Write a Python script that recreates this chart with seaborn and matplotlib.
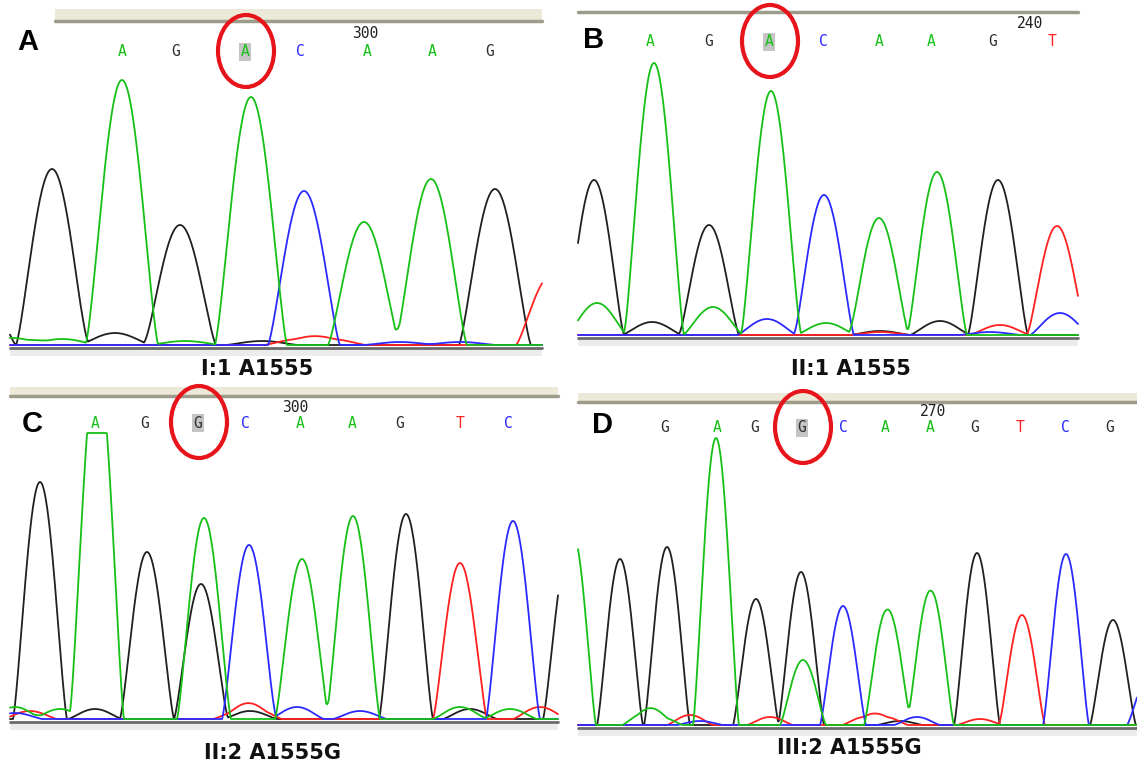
import numpy as np
import pandas as pd
import matplotlib
matplotlib.use("Agg")
import matplotlib.pyplot as plt
import seaborn as sns
from matplotlib.patches import Ellipse, Rectangle

W, H = 1137, 766

# base -> trace colour (ABI style)
colors = {"A": "#16c016", "C": "#2a2aff", "G": "#202020", "T": "#ff2020"}

# ---------- panel A : I:1 A1555 ----------
A_seq = ["A", "G", "A", "C", "A", "A", "G"]
A_seq_x = [122, 176, 245, 300, 367, 432, 490]
A_peaks = {
    "G": [(-20, 60), (52, 176), (115, 12), (180, 120), (262, 4), (495, 156)],
    "A": [(12, 7), (62, 6), (122, 265), (185, 4), (251, 248), (364, 123), (431, 166)],
    "C": [(304, 154), (400, 3), (460, 3)],
    "T": [(300, 6), (330, 6), (552, 70)],
}

# ---------- panel B : II:1 A1555 ----------
B_seq = ["A", "G", "A", "C", "A", "A", "G", "T"]
B_seq_x = [650, 709, 769, 823, 879, 931, 993, 1052]
B_peaks = {
    "G": [(594, 155), (652, 13), (709, 110), (880, 4), (940, 14), (998, 155)],
    "A": [(597, 32), (654, 272), (713, 28), (771, 244), (826, 12), (879, 117), (937, 163)],
    "C": [(767, 16), (824, 140), (990, 3), (1060, 22)],
    "T": [(880, 3), (1000, 10), (1057, 109)],
}

# ---------- panel C : II:2 A1555G ----------
C_seq = ["A", "G", "G", "C", "A", "A", "G", "T", "C"]
C_seq_x = [95, 145, 198, 245, 300, 352, 400, 460, 508]
C_peaks = {
    "G": [(40, 237), (95, 10), (147, 167), (201, 135), (250, 8), (406, 205), (470, 10), (570, 175)],
    "A": [(15, 12), (60, 10), (97, 360), (204, 201), (302, 160), (353, 203), (460, 12), (510, 10)],
    "C": [(15, 6), (249, 174), (297, 12), (360, 8), (513, 198)],
    "T": [(30, 8), (240, 8), (255, 10), (460, 156), (540, 12)],
}

# ---------- panel D : III:2 A1555G ----------
D_seq = ["G", "A", "G", "G", "C", "A", "A", "G", "T", "C", "G"]
D_seq_x = [665, 717, 755, 802, 843, 885, 930, 975, 1020, 1065, 1110]
D_peaks = {
    "G": [(620, 166), (667, 178), (756, 126), (801, 153), (900, 4), (977, 172), (1113, 105)],
    "A": [(573, 190), (645, 12), (660, 8), (716, 287), (803, 65), (887, 115), (909, 10), (931, 134)],
    "C": [(700, 4), (843, 119), (917, 8), (1066, 171), (1150, 50)],
    "T": [(690, 10), (770, 8), (865, 8), (885, 8), (980, 6), (1022, 110)],
}

# panel layout in pixels: x0, x1, top line, baseline; peak half-base width; clip
panels = [
    dict(name="A", seq=A_seq, seq_x=A_seq_x, peaks=A_peaks, box=(10, 542, 21, 348), width=36,
         clip=None, seq_y=52, hi=2, num="300", num_xy=(365, 33), letter_xy=(28, 42),
         caption="I:1 A1555", cap_xy=(257, 369), band=(55, 9)),
    dict(name="B", seq=B_seq, seq_x=B_seq_x, peaks=B_peaks, box=(578, 1078, 12, 338), width=30,
         clip=None, seq_y=42, hi=2, num="240", num_xy=(1030, 24), letter_xy=(594, 40),
         caption="II:1 A1555", cap_xy=(851, 369), band=None),
    dict(name="C", seq=C_seq, seq_x=C_seq_x, peaks=C_peaks, box=(10, 558, 396, 722), width=27,
         clip=286, seq_y=423, hi=2, num="300", num_xy=(295, 407), letter_xy=(32, 424),
         caption="II:2 A1555G", cap_xy=(272, 753), band=(10, 387)),
    dict(name="D", seq=D_seq, seq_x=D_seq_x, peaks=D_peaks, box=(578, 1137, 402, 728), width=23,
         clip=None, seq_y=428, hi=3, num="270", num_xy=(933, 411), letter_xy=(603, 425),
         caption="III:2 A1555G", cap_xy=(849, 748), band=(578, 393)),
]

sns.set_theme(style="white")
plt.rcParams["font.family"] = ["DejaVu Sans"]

fig = plt.figure(figsize=(W / 100, H / 100), dpi=100)
ax = fig.add_axes([0, 0, 1, 1])
ax.set_xlim(0, W)
ax.set_ylim(H, 0)
ax.axis("off")


def signal(xs, peaks, w, clip):
    # compact peaks: round apex, near-straight flanks
    y = np.zeros_like(xs)
    for p, h in peaks:
        u = np.clip(np.abs(xs - p) / w, 0, 1)
        y += h * np.cos(np.pi / 2 * u) ** 1.3
    if clip is not None:
        y = np.minimum(y, clip)
    return y


for p in panels:
    x0, x1, ytop, ybase = p["box"]

    # top ruler band and line
    lx = x0
    if p["band"] is not None:
        bx, by = p["band"]
        lx = bx
        ax.add_patch(Rectangle((bx, by), x1 - bx, ytop - by, color="#ece9d8", lw=0, zorder=1))
    ax.plot([lx, x1], [ytop, ytop], color="#9d9b8a", lw=2.5, zorder=2)

    # baseline and light strip under it
    ax.add_patch(Rectangle((x0, ybase + 1), x1 - x0, 7, color="#ececec", lw=0, zorder=1))
    ax.plot([x0, x1], [ybase, ybase], color="#6a6a6a", lw=2, zorder=2)

    # traces
    xs = np.arange(x0, x1 + 0.5, 0.5)
    rows = []
    for base in ["G", "T", "C", "A"]:
        ys = signal(xs, p["peaks"][base], p["width"], p["clip"])
        rows.append(pd.DataFrame({"x": xs, "y": ybase - 3 - ys, "base": base}))
    df = pd.concat(rows, ignore_index=True)
    sns.lineplot(data=df, x="x", y="y", hue="base", palette=colors, estimator=None,
                 sort=False, legend=False, lw=1.3, ax=ax, zorder=3)

    # called bases
    for i, (b, bx) in enumerate(zip(p["seq"], p["seq_x"])):
        kw = {}
        if i == p["hi"]:
            kw["bbox"] = dict(boxstyle="square,pad=0.12", fc="#c4c4c4", ec="none")
        ax.text(bx, p["seq_y"], b, color=colors[b] if b != "G" else "#303030",
                family="DejaVu Sans Mono", fontsize=10.5, ha="center", va="center", zorder=4, **kw)
        if i == p["hi"]:
            ax.add_patch(Ellipse((bx + 1, p["seq_y"] - 1), 56, 72, fill=False,
                                 ec="#e8141c", lw=3, zorder=5))

    ax.text(*p["num_xy"], p["num"], family="DejaVu Sans Mono", fontsize=10.5,
            color="#202020", ha="center", va="center", zorder=4)
    ax.text(*p["letter_xy"], p["name"], family="Liberation Sans", fontweight="bold",
            fontsize=21, ha="center", va="center", color="black", zorder=4)
    ax.text(*p["cap_xy"], p["caption"], family="DejaVu Sans", fontweight="bold",
            fontsize=15, ha="center", va="center", color="#111111", zorder=4)

fig.savefig("out.png", dpi=100, facecolor="white")
